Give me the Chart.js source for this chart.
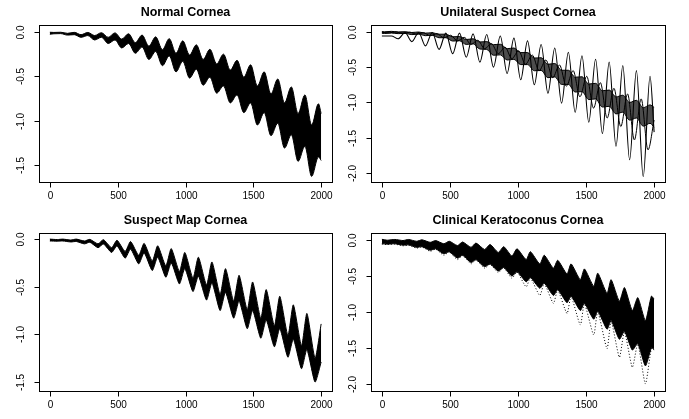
<!DOCTYPE html>
<html><head><meta charset="utf-8">
<script src="https://cdn.jsdelivr.net/npm/chart.js@4.4.1/dist/chart.umd.min.js"></script>
<style>
body{margin:0;background:#fff}
#wrap{position:relative;width:689px;height:419px;background:#fff}
canvas{position:absolute}
</style></head>
<body><div id="wrap">
<canvas id="c1" width="344" height="209" style="left:0;top:0"></canvas>
<canvas id="c2" width="345" height="209" style="left:344px;top:0"></canvas>
<canvas id="c3" width="344" height="210" style="left:0;top:209px"></canvas>
<canvas id="c4" width="345" height="210" style="left:344px;top:209px"></canvas>
</div>
<script>
// ---------- tick values ----------
const xTickVals = [0, 500, 1000, 1500, 2000];
const yTicksA = [0, -0.5, -1.0, -1.5];
const yTicksB = [0, -0.5, -1.0, -1.5, -2.0];

// ---------- Panel 1: Normal Cornea (band envelopes at troughs/peaks) ----------
const p1X = [0,30,80,130,180,230,280,330,380,430,480,530,580,630,680,730,780,830,880,930,980,1030,1080,1130,1180,1230,1280,1330,1380,1430,1480,1530,1580,1630,1680,1730,1780,1830,1880,1930,1980,2000];
const p1Upper = [-0.003,-0.005,-0.003,-0.015,-0.004,-0.03,-0.005,-0.04,-0.008,-0.06,-0.01,-0.08,-0.02,-0.12,-0.035,-0.16,-0.055,-0.20,-0.075,-0.24,-0.10,-0.26,-0.145,-0.31,-0.195,-0.36,-0.25,-0.43,-0.32,-0.51,-0.37,-0.61,-0.45,-0.70,-0.53,-0.80,-0.62,-0.92,-0.71,-1.05,-0.81,-0.92];
const p1Lower = [-0.025,-0.02,-0.018,-0.035,-0.03,-0.06,-0.04,-0.09,-0.06,-0.13,-0.09,-0.18,-0.13,-0.24,-0.17,-0.31,-0.22,-0.38,-0.27,-0.45,-0.33,-0.52,-0.42,-0.60,-0.51,-0.69,-0.61,-0.80,-0.71,-0.91,-0.80,-1.05,-0.91,-1.17,-1.03,-1.31,-1.16,-1.46,-1.29,-1.63,-1.41,-1.45];

// ---------- Panel 2: Unilateral Suspect Cornea ----------
const p2X = [0,20,70,120,170,220,270,320,370,420,470,520,570,620,670,720,770,820,870,920,970,1020,1070,1120,1170,1220,1270,1320,1370,1420,1470,1520,1570,1620,1670,1720,1770,1820,1870,1920,1970,2000];
const p2BigCurve = [-0.06,-0.06,-0.06,-0.10,-0.01,-0.14,-0.01,-0.20,-0.01,-0.25,-0.02,-0.31,-0.02,-0.36,-0.03,-0.43,-0.04,-0.50,-0.06,-0.59,-0.09,-0.68,-0.13,-0.75,-0.18,-0.87,-0.23,-1.01,-0.29,-1.14,-0.34,-1.28,-0.39,-1.44,-0.43,-1.62,-0.48,-1.81,-0.55,-2.05,-0.63,-1.42];
const p2Upper = [0.002,-0.001,0.005,-0.003,0.0,-0.011,-0.004,-0.02,-0.014,-0.035,-0.035,-0.072,-0.068,-0.11,-0.10,-0.145,-0.14,-0.183,-0.177,-0.24,-0.23,-0.295,-0.295,-0.372,-0.368,-0.46,-0.45,-0.545,-0.545,-0.643,-0.637,-0.74,-0.73,-0.835,-0.825,-0.922,-0.898,-1.0,-0.97,-1.075,-1.035,-1.07];
const p2Lower = [-0.022,-0.025,-0.019,-0.027,-0.024,-0.041,-0.034,-0.056,-0.05,-0.085,-0.085,-0.132,-0.128,-0.18,-0.17,-0.245,-0.25,-0.333,-0.327,-0.40,-0.39,-0.465,-0.465,-0.552,-0.548,-0.65,-0.64,-0.745,-0.745,-0.853,-0.847,-0.96,-0.95,-1.065,-1.055,-1.162,-1.138,-1.25,-1.22,-1.335,-1.295,-1.35];
const p2SecondX = [0,55,105,155,205,255,305,355,405,455,505,555,605,655,705,755,805,855,905,955,1005,1055,1105,1155,1205,1255,1305,1355,1405,1455,1505,1555,1605,1655,1705,1755,1805,1855,1905,1955,2000];
const p2SecondCurve = [-0.01,-0.015,-0.005,-0.02,-0.008,-0.035,-0.015,-0.055,-0.03,-0.085,-0.05,-0.13,-0.08,-0.18,-0.12,-0.24,-0.17,-0.31,-0.22,-0.38,-0.27,-0.46,-0.33,-0.55,-0.40,-0.65,-0.47,-0.77,-0.55,-0.92,-0.63,-1.08,-0.72,-1.22,-0.80,-1.34,-0.88,-1.53,-0.95,-1.67,-1.25];

// ---------- Panel 3: Suspect Map Cornea ----------
const p3X = [0,55,95,155,195,255,295,355,395,455,495,555,595,655,695,755,795,855,895,955,995,1055,1095,1155,1195,1255,1295,1355,1395,1455,1495,1555,1595,1655,1695,1755,1795,1855,1895,1955,2000];
const p3Upper = [0.0,-0.005,0.0,-0.01,0.0,-0.02,-0.003,-0.05,-0.006,-0.09,-0.012,-0.13,-0.025,-0.17,-0.045,-0.23,-0.07,-0.28,-0.10,-0.34,-0.14,-0.41,-0.19,-0.48,-0.24,-0.58,-0.31,-0.65,-0.38,-0.74,-0.45,-0.83,-0.53,-0.91,-0.60,-1.01,-0.69,-1.12,-0.78,-1.25,-0.89];
const p3Lower = [-0.02,-0.022,-0.02,-0.03,-0.025,-0.05,-0.033,-0.09,-0.051,-0.14,-0.072,-0.20,-0.105,-0.26,-0.145,-0.33,-0.19,-0.40,-0.25,-0.47,-0.31,-0.55,-0.39,-0.64,-0.46,-0.75,-0.56,-0.83,-0.65,-0.94,-0.75,-1.04,-0.85,-1.13,-0.94,-1.24,-1.05,-1.36,-1.16,-1.50,-1.29];

// ---------- Panel 4: Clinical Keratoconus Cornea ----------
const p4X = [0,40,95,155,195,255,295,355,395,455,495,555,593,655,691,755,795,855,895,955,993,1060,1091,1160,1193,1260,1292,1360,1390,1458,1488,1556,1586,1654,1684,1745,1782,1840,1880,1936,1980,2000];
const p4Upper = [0.012,0.0,0.01,-0.005,0.01,-0.015,0.005,-0.03,-0.005,-0.05,-0.015,-0.075,-0.025,-0.10,-0.04,-0.13,-0.06,-0.17,-0.09,-0.22,-0.12,-0.27,-0.16,-0.33,-0.21,-0.39,-0.28,-0.47,-0.33,-0.55,-0.40,-0.64,-0.46,-0.74,-0.55,-0.85,-0.66,-0.98,-0.80,-1.12,-0.78,-0.82];
const p4Lower = [-0.05,-0.055,-0.05,-0.07,-0.065,-0.10,-0.09,-0.14,-0.12,-0.19,-0.16,-0.25,-0.21,-0.31,-0.27,-0.37,-0.33,-0.43,-0.38,-0.50,-0.44,-0.58,-0.52,-0.67,-0.60,-0.77,-0.69,-0.87,-0.78,-0.98,-0.88,-1.10,-0.99,-1.24,-1.12,-1.38,-1.27,-1.53,-1.44,-1.75,-1.50,-1.52];
const p4Outlier = [-0.055,-0.06,-0.055,-0.08,-0.07,-0.11,-0.095,-0.155,-0.125,-0.21,-0.165,-0.27,-0.215,-0.33,-0.275,-0.39,-0.335,-0.45,-0.385,-0.53,-0.445,-0.65,-0.525,-0.77,-0.605,-0.88,-0.695,-1.02,-0.785,-1.18,-0.885,-1.32,-0.995,-1.51,-1.125,-1.63,-1.275,-1.77,-1.445,-2.0,-1.505,-1.53];

// ---------- helpers ----------
const pts = (xs, ys) => xs.map((x, i) => ({x: x, y: ys[i]}));
const FONT = '"Liberation Sans", Arial, Helvetica, sans-serif';

const rAxes = {
  id: 'rAxes',
  afterDraw(chart, args, o) {
    const ctx = chart.ctx, a = chart.chartArea, xs = chart.scales.x, ys = chart.scales.y;
    ctx.save();
    ctx.strokeStyle = '#000'; ctx.fillStyle = '#000'; ctx.lineWidth = 1;
    const L = Math.round(a.left) + 0.5, T = Math.round(a.top) + 0.5;
    const R = Math.round(a.right) + 0.5, B = Math.round(a.bottom) + 0.5;
    ctx.strokeRect(L, T, R - L, B - T);
    const xp = o.xTicks.map(v => Math.round(xs.getPixelForValue(v)) + 0.5);
    ctx.beginPath();
    ctx.moveTo(xp[0], B); ctx.lineTo(xp[xp.length - 1], B);
    xp.forEach(p => { ctx.moveTo(p, B); ctx.lineTo(p, B + 5); });
    ctx.stroke();
    ctx.font = '10px ' + FONT; ctx.textAlign = 'center'; ctx.textBaseline = 'middle';
    o.xTicks.forEach((v, i) => ctx.fillText(String(v), xp[i], a.bottom + 14.5));
    const yp = o.yTicks.map(v => Math.round(ys.getPixelForValue(v)) + 0.5);
    ctx.beginPath();
    ctx.moveTo(L, yp[0]); ctx.lineTo(L, yp[yp.length - 1]);
    yp.forEach(p => { ctx.moveTo(L, p); ctx.lineTo(L - 5, p); });
    ctx.stroke();
    o.yTicks.forEach((v, i) => {
      ctx.save(); ctx.translate(a.left - 17.5, yp[i]); ctx.rotate(-Math.PI / 2);
      ctx.fillText(v.toFixed(1), 0, 0); ctx.restore();
    });
    ctx.font = 'bold 12.5px ' + FONT;
    ctx.fillText(o.title, (a.left + a.right) / 2, a.top - 12);
    ctx.restore();
  }
};

function band(xs, up, lo, color, smooth) {
  const s = smooth ? {cubicInterpolationMode: 'monotone'} : {cubicInterpolationMode: 'default', tension: 0.2};
  return [
    Object.assign({data: pts(xs, up), borderColor: '#000', borderWidth: 1, fill: false}, s),
    Object.assign({data: pts(xs, lo), borderColor: '#000', borderWidth: 1, fill: '-1', backgroundColor: color}, s)
  ];
}

function makeChart(id, title, datasets, pad, ymin, ymax, yTicks) {
  return new Chart(document.getElementById(id), {
    type: 'line',
    data: {datasets: datasets},
    options: {
      responsive: false, animation: false, devicePixelRatio: 1,
      layout: {padding: pad},
      plugins: {legend: {display: false}, tooltip: {enabled: false}, title: {display: false},
        rAxes: {title: title, xTicks: xTickVals, yTicks: yTicks}},
      scales: {
        x: {type: 'linear', min: -80, max: 2080, display: false},
        y: {type: 'linear', min: ymin, max: ymax, display: false}
      },
      elements: {point: {radius: 0}, line: {borderWidth: 1}}
    },
    plugins: [rAxes]
  });
}

makeChart('c1', 'Normal Cornea', band(p1X, p1Upper, p1Lower, '#000', true),
  {left: 39, top: 25, right: 12, bottom: 27}, -1.693, 0.079, yTicksA);

makeChart('c2', 'Unilateral Suspect Cornea',
  band(p2X, p2Upper, p2Lower, 'rgba(0,0,0,0.7)', true).concat([
    {data: pts(p2SecondX, p2SecondCurve), borderColor: '#000', borderWidth: 1, fill: false, cubicInterpolationMode: 'monotone'},
    {data: pts(p2X, p2BigCurve), borderColor: '#000', borderWidth: 1.1, fill: false, cubicInterpolationMode: 'monotone'}
  ]),
  {left: 27, top: 25, right: 24, bottom: 27}, -2.125, 0.095, yTicksB);

makeChart('c3', 'Suspect Map Cornea', band(p3X, p3Upper, p3Lower, '#000', false),
  {left: 39, top: 24, right: 12, bottom: 28}, -1.594, 0.064, yTicksA);

makeChart('c4', 'Clinical Keratoconus Cornea',
  band(p4X, p4Upper, p4Lower, '#000', false).concat([
    {data: pts(p4X, p4Outlier), borderColor: '#000', borderWidth: 1, borderDash: [1, 2], fill: false, tension: 0.2}
  ]),
  {left: 27, top: 24, right: 24, bottom: 28}, -2.10, 0.10, yTicksB);
</script>
</body></html>
